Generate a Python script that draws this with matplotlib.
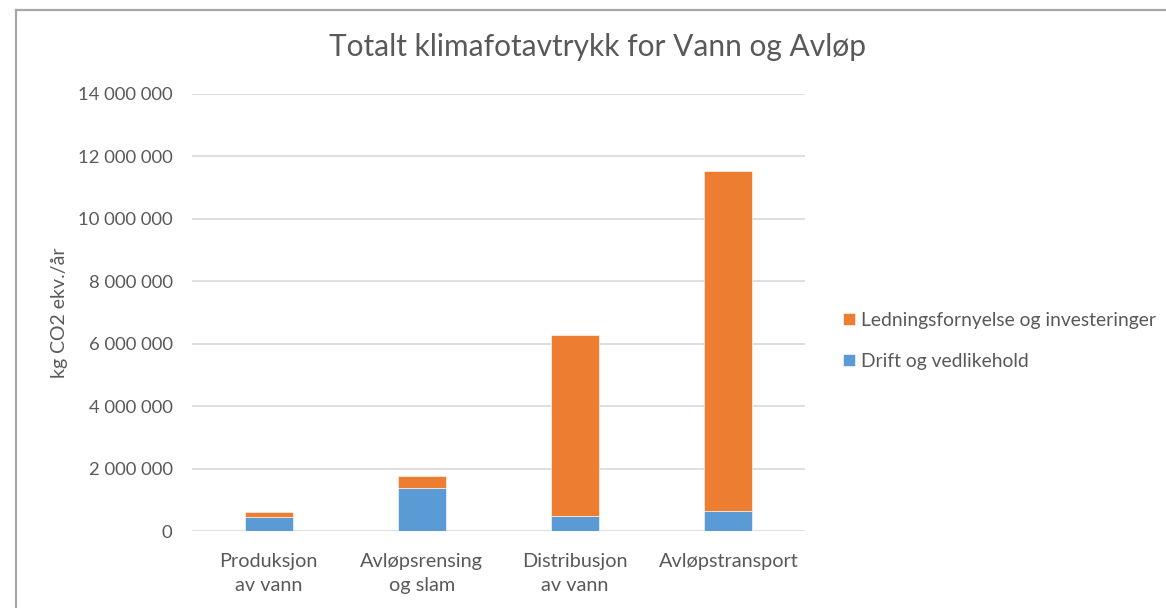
import numpy as np
import matplotlib
matplotlib.use("Agg")
import matplotlib.pyplot as plt
from matplotlib.lines import Line2D
from matplotlib.ticker import FuncFormatter

plt.rcParams['font.family'] = ['Lato', 'DejaVu Sans']

categories = ["Produksjon\nav vann", "Avløpsrensing\nog slam", "Distribusjon\nav vann", "Avløpstransport"]
drift = [460000, 1390000, 490000, 630000]
ledning = [150000, 370000, 5780000, 10900000]
series_names = ["Drift og vedlikehold", "Ledningsfornyelse og investeringer"]

blue = "#5B9BD5"
orange = "#ED7D31"
txt = "#595959"

fig = plt.figure(figsize=(11.66, 6.08), dpi=100)
ax = fig.add_axes([192 / 1166, 1 - 531 / 608, (805 - 192) / 1166, (531 - 94) / 608])

x = np.arange(len(categories))
b1 = ax.bar(x, drift, width=0.314, color=blue, edgecolor="white", linewidth=0.4,
            label=series_names[0], zorder=3)
b2 = ax.bar(x, ledning, width=0.314, bottom=drift, color=orange, edgecolor="white",
            linewidth=0.4, label=series_names[1], zorder=3)

ax.set_xlim(-0.5, len(categories) - 0.5)
ax.set_ylim(0, 14000000)
ax.set_yticks(np.arange(0, 14000001, 2000000))
ax.yaxis.set_major_formatter(FuncFormatter(lambda v, p: f"{int(v):,}".replace(",", " ")))
ax.grid(axis="y", color="#d9d9d9", linewidth=1.2, zorder=0)
for s in ax.spines.values():
    s.set_visible(False)
ax.tick_params(axis="both", length=0, colors=txt)
ax.tick_params(axis="y", pad=14, labelsize=13.3)
ax.tick_params(axis="x", pad=16, labelsize=14.3)
ax.set_xticks(x)
ax.set_xticklabels(categories, linespacing=1.5)
ax.set_ylabel("kg CO2 ekv./år", fontsize=14, color=txt, labelpad=7)

fig.text(598 / 1166, 1 - 47 / 608, "Totalt klimafotavtrykk for Vann og Avløp",
         ha="center", va="center", fontsize=21.5, color=txt)

leg = fig.legend([b2, b1], [series_names[1], series_names[0]],
                 loc="center left", bbox_to_anchor=(826 / 1166, 1 - 341 / 608),
                 frameon=False, fontsize=13.9, handlelength=0.6, handleheight=0.6,
                 handletextpad=0.3, labelspacing=1.25, labelcolor=txt)

# chart frame
fig.add_artist(Line2D([15.5 / 1166, 15.5 / 1166], [0, 1 - 9.5 / 608], color="#a6a6a6", linewidth=1.6))
fig.add_artist(Line2D([15.5 / 1166, 1], [1 - 9.5 / 608, 1 - 9.5 / 608], color="#a6a6a6", linewidth=1.6))

fig.savefig("out.png", dpi=100)
